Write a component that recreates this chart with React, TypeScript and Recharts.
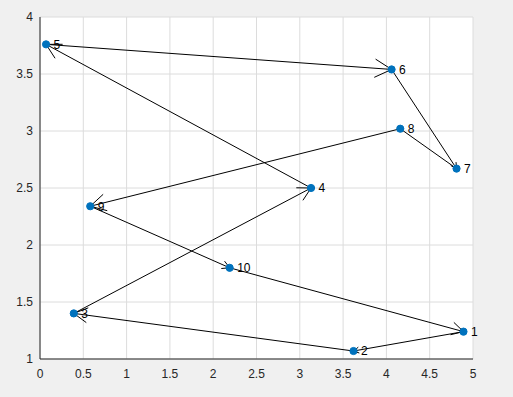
import React from 'react'
import {
  ScatterChart,
  Scatter,
  XAxis,
  YAxis,
  CartesianGrid,
  ReferenceLine,
} from 'recharts'

const xValues = [4.89, 3.62, 0.39, 3.13, 0.07, 4.06, 4.81, 4.16, 0.58, 2.19]
const yValues = [1.24, 1.07, 1.4, 2.5, 3.76, 3.54, 2.67, 3.02, 2.34, 1.8]
const pointLabels = ['1', '2', '3', '4', '5', '6', '7', '8', '9', '10']
const xTicks = [0, 0.5, 1, 1.5, 2, 2.5, 3, 3.5, 4, 4.5, 5]
const yTicks = [1, 1.5, 2, 2.5, 3, 3.5, 4]

const points = xValues.map((x, i) => ({ x, y: yValues[i], label: pointLabels[i] }))

// each point links to the next one, the last one goes back to the first
const segments = points.map((p, i) => {
  const next = points[(i + 1) % points.length]
  return [
    { x: p.x, y: p.y },
    { x: next.x, y: next.y },
  ]
})

const FONT = '"Liberation Sans", Arial, Helvetica, sans-serif'
const BLUE = '#0072BD'

function ArrowShape(props: any) {
  const { x1, y1, x2, y2 } = props
  const dx = x2 - x1
  const dy = y2 - y1
  const len = Math.sqrt(dx * dx + dy * dy)
  const head = len * 0.055
  const ang = Math.atan2(dy, dx)
  const spread = 0.5
  const ax = x2 - head * Math.cos(ang - spread)
  const ay = y2 - head * Math.sin(ang - spread)
  const bx = x2 - head * Math.cos(ang + spread)
  const by = y2 - head * Math.sin(ang + spread)
  return (
    <g>
      <line x1={x1} y1={y1} x2={x2} y2={y2} stroke="#000" strokeWidth={1} />
      <polyline
        points={`${ax},${ay} ${x2},${y2} ${bx},${by}`}
        fill="none"
        stroke="#000"
        strokeWidth={1}
      />
    </g>
  )
}

function DotShape(props: any) {
  const { cx, cy, payload } = props
  return (
    <g>
      <circle cx={cx} cy={cy} r={3.6} fill={BLUE} stroke={BLUE} />
      <text
        x={cx + 7.5}
        y={cy}
        dy="0.36em"
        fontSize={12}
        fontFamily={FONT}
        fill="#000"
      >
        {payload.label}
      </text>
    </g>
  )
}

export default function App() {
  return (
    <div
      style={{
        position: 'absolute',
        left: 0,
        top: 0,
        width: 513,
        height: 397,
        background: '#f0f0f0',
      }}
    >
      <ScatterChart
        width={513}
        height={397}
        margin={{ top: 17, right: 40, left: 0, bottom: 0 }}
      >
        <CartesianGrid stroke="#dcdcdc" strokeWidth={1} fill="#fff" />
        <XAxis
          type="number"
          dataKey="x"
          domain={[0, 5]}
          ticks={xTicks}
          height={38}
          tickLine={false}
          tickSize={5}
          tickMargin={5}
          stroke="#262626"
          tick={{ fill: '#262626', fontSize: 12, fontFamily: FONT }}
        />
        <YAxis
          type="number"
          dataKey="y"
          domain={[1, 4]}
          ticks={yTicks}
          width={40}
          tickLine={false}
          tickSize={5}
          tickMargin={2}
          stroke="#262626"
          tick={{ fill: '#262626', fontSize: 12, fontFamily: FONT }}
        />
        {segments.map((seg, i) => (
          <ReferenceLine
            key={i}
            segment={seg}
            ifOverflow="visible"
            shape={ArrowShape}
          />
        ))}
        <Scatter data={points} shape={DotShape} isAnimationActive={false} />
      </ScatterChart>
    </div>
  )
}
